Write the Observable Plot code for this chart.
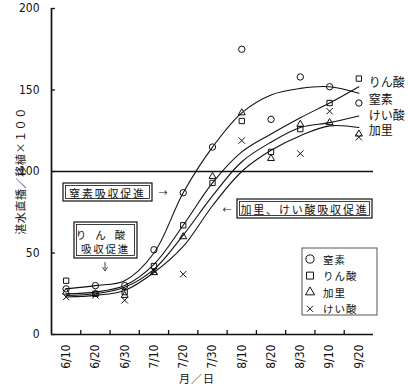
<!DOCTYPE html>
<html><head><meta charset="utf-8">
<script src="https://cdn.jsdelivr.net/npm/d3@7"></script>
<script src="https://cdn.jsdelivr.net/npm/@observablehq/plot@0.6"></script>
<style>
html,body{margin:0;padding:0;background:#fff;}
#chart{width:408px;height:386px;overflow:hidden;}
</style></head><body><div id="chart"></div>
<script>
// Categories (dates, equally spaced)
const dates = ["6/10","6/20","6/30","7/10","7/20","7/30","8/10","8/20","8/30","9/10","9/20"];
const seriesNames = ["窒素","りん酸","加里","けい酸"];
const yTicks = [0, 50, 100, 150, 200];

// Observed points
const ptNitrogen   = [28, 30, 30, 52, 87, 115, 175, 132, 158, 152, 142];
const ptPhosphate  = [33, 25, 26, 42, 67, 93, 131, 112, 126, 142, 157];
const ptPotassium  = [26, 25, 24, 38, 60, 97, 136, 108, 129, 130, 123];
const ptSilicate   = [23, 24, 21, 39, 37, null, 119, null, 111, 137, 121];

// Fitted curves read at each date
const fitNitrogen  = [28, 30, 33, 50, 87, 115, 136, 147, 151, 152, 148];
const fitPhosphate = [25, 26, 30, 43, 67, 93, 112, 123, 133, 142, 152];
const fitSilicate  = [24, 25, 29, 40, 61, 85, 106, 118, 127, 130, 134];
const fitPotassium = [23, 24, 27, 38, 54, 79, 100, 113, 122, 128, 127];

// Curve end labels (value where each label sits)
const curveLabelNames = ["りん酸","窒素","けい酸","加里"];
const curveLabelValues = [154, 144, 134, 124.5];

const pointSets = {"窒素": ptNitrogen, "りん酸": ptPhosphate, "加里": ptPotassium, "けい酸": ptSilicate};
const fitSets = {"窒素": fitNitrogen, "りん酸": fitPhosphate, "けい酸": fitSilicate, "加里": fitPotassium};
const symbolRadius = {"窒素": 3.2, "りん酸": 3.0, "加里": 2.6, "けい酸": 3.0};

const pointRows = [];
for (const s of seriesNames) pointSets[s].forEach((v, i) => { if (v != null) pointRows.push({i, v, s}); });
const curveRows = [];
for (const s of Object.keys(fitSets)) fitSets[s].forEach((v, i) => curveRows.push({i, v, s}));
const labelRows = curveLabelNames.map((s, k) => ({s, v: curveLabelValues[k]}));

const numFont = "'Liberation Sans Narrow','DejaVu Sans Condensed',sans-serif";
const jpFont = "'Noto Sans CJK JP',sans-serif";
const ink = "#111";

const plot = Plot.plot({
  width: 408, height: 386,
  marginLeft: 51, marginRight: 35, marginTop: 8, marginBottom: 52,
  x: {domain: [-0.5, 10.5], axis: null},
  y: {domain: [0, 200], axis: null},
  r: {type: "identity"},
  symbol: {domain: seriesNames, range: ["circle", "square", "triangle", "times"]},
  style: {fontFamily: numFont, background: "white", color: ink, overflow: "visible"},
  marks: [
    Plot.ruleY([100], {stroke: ink, strokeWidth: 1.3}),
    Plot.line(curveRows, {x: "i", y: "v", z: "s", curve: "catmull-rom", stroke: ink, strokeWidth: 1.1}),
    Plot.dot(pointRows, {x: "i", y: "v", symbol: "s", r: d => symbolRadius[d.s], stroke: ink, fill: "none", strokeWidth: 1}),
    Plot.axisY({ticks: yTicks, label: null, tickSize: -4, tickPadding: 16, fontSize: 12, stroke: ink, strokeWidth: 1.3}),
    Plot.axisX({ticks: d3.range(dates.length), label: null, tickSize: 0, tickRotate: -90, tickPadding: 10,
      tickFormat: i => dates[i], fontSize: 12}),
    Plot.axisX({ticks: d3.range(dates.length - 1).map(i => i + 0.5), label: null, tickSize: -4, tickFormat: () => "",
      stroke: ink, strokeWidth: 1.3}),
    Plot.ruleX([-0.5], {stroke: ink, strokeWidth: 1.7}),
    Plot.ruleY([0], {stroke: ink, strokeWidth: 1.7}),
    Plot.text(labelRows, {x: () => 10, y: "v", text: "s", dx: 10, textAnchor: "start",
      fontSize: 12, fontFamily: jpFont, fill: ink})
  ]
});
document.getElementById("chart").appendChild(plot);

// Annotations (layout in pixels)
const svg = d3.select(plot);
const g = svg.append("g").attr("font-family", jpFont).attr("fill", ink);

function box(x, y, w, h, dbl) {
  g.append("rect").attr("x", x).attr("y", y).attr("width", w).attr("height", h)
    .attr("fill", "white").attr("stroke", ink).attr("stroke-width", 1.2);
  if (dbl) g.append("rect").attr("x", x + 2.5).attr("y", y + 2.5).attr("width", w - 5).attr("height", h - 5)
    .attr("fill", "none").attr("stroke", ink).attr("stroke-width", 0.8);
}
function txt(x, y, t, size, opts = {}) {
  const el = g.append("text").attr("x", x).attr("y", y).attr("font-size", size)
    .attr("dominant-baseline", "central").attr("text-anchor", opts.anchor || "middle").text(t);
  if (opts.ls) el.attr("letter-spacing", opts.ls);
  if (opts.rot) el.attr("transform", `rotate(${opts.rot},${x},${y})`);
  return el;
}

// 窒素吸収促進
box(63, 183, 89, 18, true);
txt(107.5, 192.5, "窒素吸収促進", 11, {ls: 1.8});
txt(163, 192, "→", 9);

// 加里、けい酸吸収促進
box(237, 199, 135, 19, true);
txt(304.5, 209, "加里、けい酸吸収促進", 11, {ls: 1.8});
txt(227, 209, "←", 9);

// りん酸 吸収促進
box(74, 222, 63, 36, true);
txt(105, 234.5, "りん酸", 10.5, {ls: 9});
txt(105.5, 248.5, "吸収促進", 10.5, {ls: 1.8});
g.append("line").attr("x1", 105).attr("x2", 105).attr("y1", 262).attr("y2", 269).attr("stroke", ink).attr("stroke-width", 0.8);
g.append("path").attr("d", "M102.5,267 L105,271 L107.5,267").attr("fill", "none").attr("stroke", ink).attr("stroke-width", 0.8);

// Legend
g.append("rect").attr("x", 302).attr("y", 248).attr("width", 75).attr("height", 67)
  .attr("fill", "white").attr("stroke", "#444").attr("stroke-width", 0.9);
const legendSymbols = [d3.symbolCircle, d3.symbolSquare, d3.symbolTriangle, d3.symbolTimes];
const legendSizes = [52, 48, 36, 26];
seriesNames.forEach((s, k) => {
  const y = 259 + k * 16.6;
  g.append("path").attr("d", d3.symbol(legendSymbols[k], legendSizes[k])())
    .attr("transform", `translate(310,${y})`).attr("fill", "none").attr("stroke", ink).attr("stroke-width", 1);
  txt(323, y, s, 10.5, {anchor: "start", ls: 1});
});

// Axis titles
txt(20, 171, "湛水直播／移植×１００", 11, {rot: -90, ls: 0.6});
txt(197, 378, "月／日", 11, {ls: 1});
</script>
</body></html>
